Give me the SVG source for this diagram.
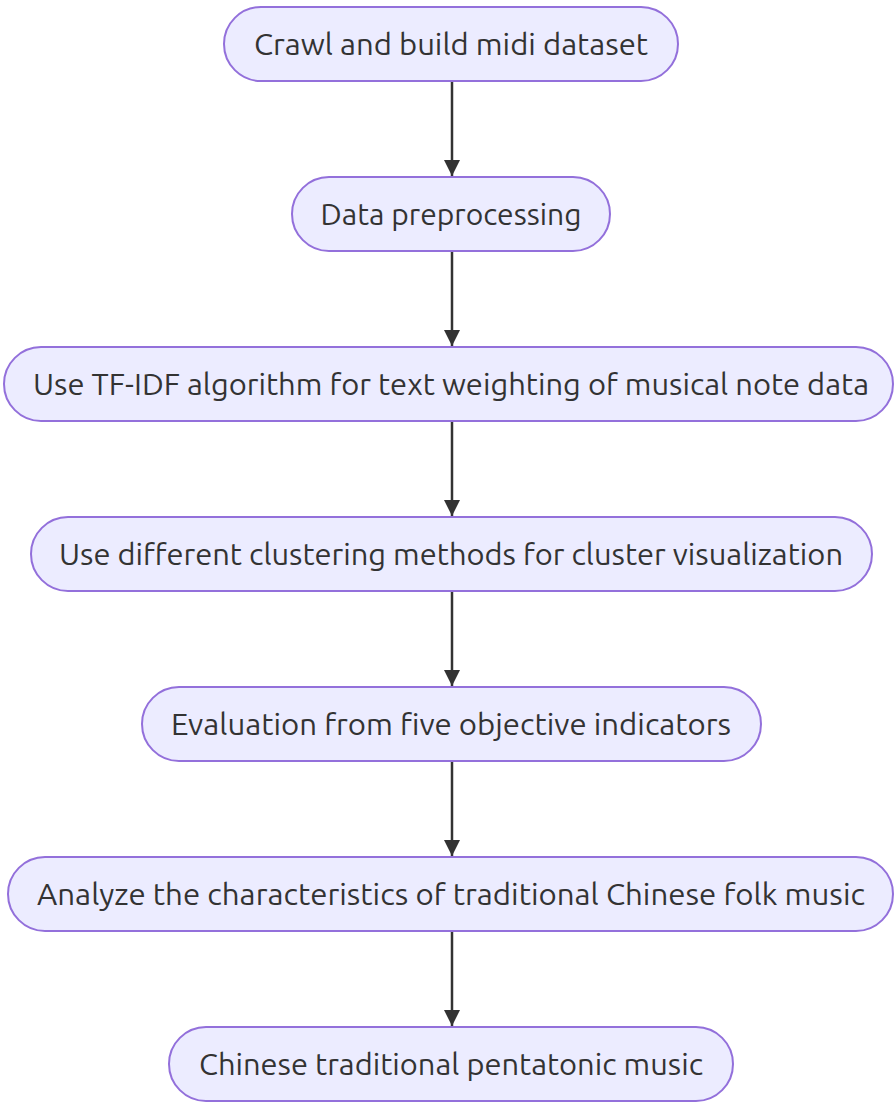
<svg xmlns="http://www.w3.org/2000/svg" width="895" height="1103" viewBox="0 0 895 1103">
  <style>
    .node rect { fill: #ECECFF; stroke: #9370DB; stroke-width: 2; }
    .node text { font-family: "Ubuntu", "Trebuchet MS", "Open Sans", "DejaVu Sans", sans-serif; font-size: 30px; fill: #333333; text-anchor: middle; }
    .edge { stroke: #333333; stroke-width: 2.5; fill: none; }
  </style>
  <defs>
    <marker id="arrow" viewBox="0 0 16 16" refX="16" refY="8" markerWidth="16" markerHeight="16" markerUnits="userSpaceOnUse" orient="auto">
      <path d="M0,0 L16,8 L0,16 z" fill="#333333"/>
    </marker>
  </defs>
  <rect width="895" height="1103" fill="#ffffff"/>

  <g id="connectors">
    <path class="edge" d="M452,81 L452,176" marker-end="url(#arrow)"/>
    <path class="edge" d="M452,251 L452,346" marker-end="url(#arrow)"/>
    <path class="edge" d="M452,421 L452,516" marker-end="url(#arrow)"/>
    <path class="edge" d="M452,591 L452,686" marker-end="url(#arrow)"/>
    <path class="edge" d="M452,761 L452,856" marker-end="url(#arrow)"/>
    <path class="edge" d="M452,931 L452,1026" marker-end="url(#arrow)"/>
  </g>

  <g id="crawl" class="node">
    <rect x="224" y="7" width="454" height="74" rx="37" ry="37"/>
    <text x="451" y="55" textLength="394" lengthAdjust="spacingAndGlyphs">Crawl and build midi dataset</text>
  </g>
  <g id="preprocess" class="node">
    <rect x="292" y="177" width="318" height="74" rx="37" ry="37"/>
    <text x="451" y="225" textLength="261" lengthAdjust="spacingAndGlyphs">Data preprocessing</text>
  </g>
  <g id="tfidf" class="node">
    <rect x="4" y="347" width="889" height="74" rx="37" ry="37"/>
    <text x="451" y="395" textLength="836" lengthAdjust="spacingAndGlyphs">Use TF-IDF algorithm for text weighting of musical note data</text>
  </g>
  <g id="clustering" class="node">
    <rect x="31" y="517" width="841" height="74" rx="37" ry="37"/>
    <text x="451" y="565" textLength="784" lengthAdjust="spacingAndGlyphs">Use different clustering methods for cluster visualization</text>
  </g>
  <g id="evaluation" class="node">
    <rect x="142" y="687" width="619" height="74" rx="37" ry="37"/>
    <text x="451" y="735" textLength="560" lengthAdjust="spacingAndGlyphs">Evaluation from five objective indicators</text>
  </g>
  <g id="analyze" class="node">
    <rect x="8" y="857" width="885" height="74" rx="37" ry="37"/>
    <text x="451" y="905" textLength="828" lengthAdjust="spacingAndGlyphs">Analyze the characteristics of traditional Chinese folk music</text>
  </g>
  <g id="pentatonic" class="node">
    <rect x="169" y="1027" width="564" height="74" rx="37" ry="37"/>
    <text x="451" y="1075" textLength="504" lengthAdjust="spacingAndGlyphs">Chinese traditional pentatonic music</text>
  </g>
</svg>
